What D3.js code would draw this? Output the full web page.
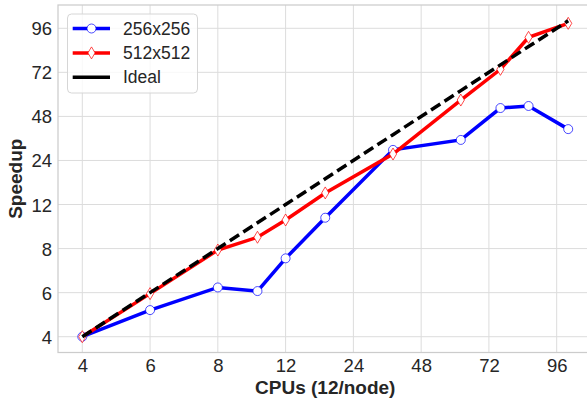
<!DOCTYPE html>
<html>
<head>
<meta charset="utf-8">
<script src="https://cdn.jsdelivr.net/npm/d3@7"></script>
<style>
  body{margin:0;background:#fff;}
  svg text{font-family:Arial,"Liberation Sans",sans-serif;}
</style>
</head>
<body>
<div id="chart"></div>
<script>
// x positions (log2 axis) and speedups relative to the smallest run
const cpus=[1,2,4,6,8,12,24,48,72,96,144];
const speedup256=[1,1.52,2.17,2.05,3.43,6.5,18.9,22.1,36.5,37.7,26.2];
const speedup512=[1,1.97,3.91,4.78,6.27,9.6,17.7,41.4,67.1,111,138.4];
const ideal=cpus.slice();
const tickVals=[1,2,4,8,16,32,64,128];
const tickLabels=["4","6","8","12","24","48","72","96"];

const W=587,H=401;
const plot={left:58,right:592.5,top:5,bottom:352.5};

// matplotlib style 5% margins in log space
function padDomain(lo,hi){
    const a=Math.log2(lo),b=Math.log2(hi),m=(b-a)*0.05;
    return [Math.pow(2,a-m),Math.pow(2,b+m)];
}
const x=d3.scaleLog().base(2)
    .domain(padDomain(d3.min(cpus),d3.max(cpus)))
    .range([plot.left,plot.right]);
const y=d3.scaleLog().base(2)
    .domain(padDomain(1,d3.max(ideal.concat(speedup512))))
    .range([plot.bottom,plot.top]);

const svg=d3.select("#chart").append("svg")
    .attr("width",W).attr("height",H);

const gridColor="#dcdcdc",textColor="#262626";

// grid
svg.append("g").selectAll("line").data(tickVals).join("line")
    .attr("x1",d=>x(d)).attr("x2",d=>x(d))
    .attr("y1",plot.top).attr("y2",plot.bottom)
    .attr("stroke",gridColor).attr("stroke-width",1);
svg.append("g").selectAll("line").data(tickVals).join("line")
    .attr("y1",d=>y(d)).attr("y2",d=>y(d))
    .attr("x1",plot.left).attr("x2",plot.right)
    .attr("stroke",gridColor).attr("stroke-width",1);

// spines
svg.append("rect")
    .attr("x",plot.left).attr("y",plot.top)
    .attr("width",plot.right-plot.left).attr("height",plot.bottom-plot.top)
    .attr("fill","none").attr("stroke","#cccccc").attr("stroke-width",1.25);

// axes (labels only, seaborn whitegrid has no tick marks)
const xAxis=svg.append("g")
    .attr("transform",`translate(0,${plot.bottom})`)
    .call(d3.axisBottom(x).tickValues(tickVals).tickSize(0).tickPadding(0)
        .tickFormat((d,i)=>tickLabels[i]));
xAxis.select(".domain").remove();
xAxis.selectAll("text")
    .attr("y",13).attr("dy","0.35em")
    .style("font-size","18.5px").attr("fill",textColor);

const yAxis=svg.append("g")
    .attr("transform",`translate(${plot.left},0)`)
    .call(d3.axisLeft(y).tickValues(tickVals).tickSize(0).tickPadding(6)
        .tickFormat((d,i)=>tickLabels[i]));
yAxis.select(".domain").remove();
yAxis.selectAll("text")
    .attr("dy","0.35em")
    .style("font-size","18.5px").attr("fill",textColor);

svg.append("text")
    .attr("x",(plot.left+plot.right)/2).attr("y",393.5)
    .attr("text-anchor","middle")
    .style("font-size","19px").style("font-weight","bold")
    .attr("fill",textColor)
    .text("CPUs (12/node)");
svg.append("text")
    .attr("transform",`translate(22,${(plot.top+plot.bottom)/2}) rotate(-90)`)
    .attr("text-anchor","middle")
    .style("font-size","19px").style("font-weight","bold")
    .attr("fill",textColor)
    .text("Speedup");

const line=d3.line().x(d=>x(d[0])).y(d=>y(d[1]));
const diamond="M0,-6L3.6,0L0,6L-3.6,0Z";

const series=[
    {name:"256x256",vals:speedup256,color:"#0000ff",marker:"circle"},
    {name:"512x512",vals:speedup512,color:"#ff0000",marker:"diamond"},
    {name:"Ideal",vals:ideal,color:"#000000",marker:null,dash:"11,5"}
];

series.forEach(s=>{
    const pts=cpus.map((c,i)=>[c,s.vals[i]]);
    svg.append("path")
        .datum(pts)
        .attr("d",line)
        .attr("fill","none")
        .attr("stroke",s.color)
        .attr("stroke-width",3.5)
        .attr("stroke-dasharray",s.dash||null);
    if(s.marker=="circle"){
        svg.append("g").selectAll("circle").data(pts).join("circle")
            .attr("cx",d=>x(d[0])).attr("cy",d=>y(d[1])).attr("r",4.5)
            .attr("fill","#fff").attr("stroke",s.color).attr("stroke-width",1)
            .attr("stroke-opacity",0.7);
    }else if(s.marker=="diamond"){
        svg.append("g").selectAll("path").data(pts).join("path")
            .attr("d",diamond)
            .attr("transform",d=>`translate(${x(d[0])},${y(d[1])})`)
            .attr("fill","#fff").attr("stroke",s.color).attr("stroke-width",1)
            .attr("stroke-opacity",0.7);
    }
});

// legend
const lg=svg.append("g");
lg.append("rect")
    .attr("x",67.5).attr("y",14).attr("width",130).attr("height",79)
    .attr("rx",4)
    .attr("fill","#fff").attr("fill-opacity",0.8)
    .attr("stroke","#d6d6d6").attr("stroke-width",1);
series.forEach((s,i)=>{
    const cy=28.5+i*24.4;
    lg.append("line")
        .attr("x1",72.7).attr("x2",110).attr("y1",cy).attr("y2",cy)
        .attr("stroke",s.color).attr("stroke-width",3.5);
    if(s.marker=="circle"){
        lg.append("circle").attr("cx",91.5).attr("cy",cy).attr("r",4.5)
            .attr("fill","#fff").attr("stroke",s.color).attr("stroke-opacity",0.7);
    }else if(s.marker=="diamond"){
        lg.append("path").attr("d",diamond)
            .attr("transform",`translate(91.5,${cy})`)
            .attr("fill","#fff").attr("stroke",s.color).attr("stroke-opacity",0.7);
    }
    lg.append("text")
        .attr("x",123).attr("y",cy).attr("dy","0.35em")
        .style("font-size","17.5px").attr("fill",textColor)
        .text(s.name);
});
</script>
</body>
</html>
